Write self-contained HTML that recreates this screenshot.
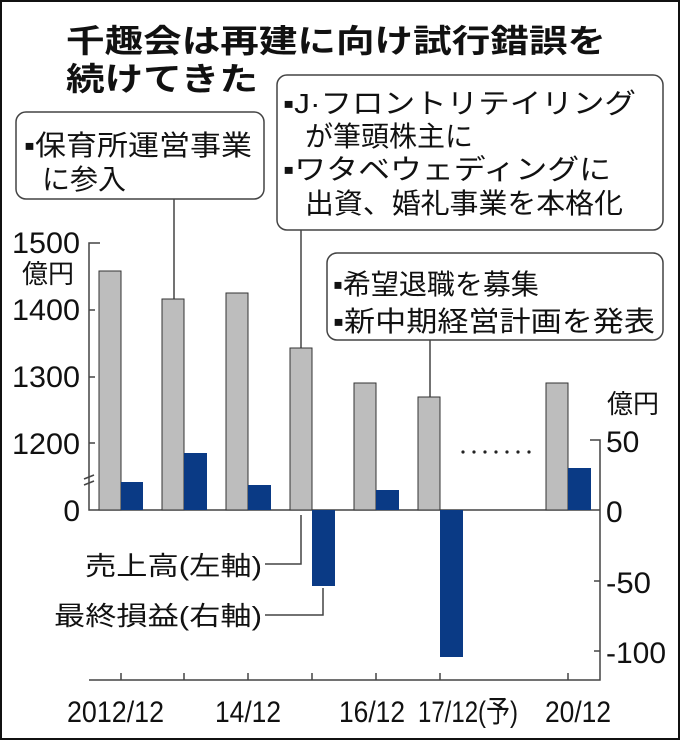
<!DOCTYPE html>
<html><head><meta charset="utf-8"><style>
html,body{margin:0;padding:0;background:#fff}
svg{display:block}
text{font-family:"Liberation Sans","Noto Sans CJK JP",sans-serif;fill:#111}
</style></head><body>
<svg width="680" height="740" viewBox="0 0 680 740">
<rect x="1" y="1" width="678" height="738" fill="#fff" stroke="#111" stroke-width="2"/>
<g font-weight="bold" font-size="32">
<text x="66" y="52" textLength="540" lengthAdjust="spacingAndGlyphs">千趣会は再建に向け試行錯誤を</text>
<text x="66" y="90" textLength="192" lengthAdjust="spacingAndGlyphs">続けてきた</text>
</g>
<g fill="#fff" stroke="#444" stroke-width="1.5">
<rect x="16" y="112" width="248" height="87" rx="10"/>
<rect x="277" y="75" width="386" height="155" rx="10"/>
<rect x="327" y="253" width="336" height="87" rx="10"/>
</g>
<g font-size="28">
<text x="24" y="155" textLength="228" lengthAdjust="spacingAndGlyphs">▪保育所運営事業</text>
<text x="42" y="189">に参入</text>
<text x="283" y="113" textLength="353" lengthAdjust="spacingAndGlyphs">▪J·フロントリテイリング</text>
<text x="305" y="146">が筆頭株主に</text>
<text x="283" y="179" textLength="328" lengthAdjust="spacingAndGlyphs">▪ワタベウェディングに</text>
<text x="305" y="213" textLength="318" lengthAdjust="spacingAndGlyphs">出資、婚礼事業を本格化</text>
<text x="333" y="294">▪希望退職を募集</text>
<text x="333" y="331" textLength="322" lengthAdjust="spacingAndGlyphs">▪新中期経営計画を発表</text>
</g>
<g stroke="#444" stroke-width="1.5" fill="none">
<line x1="174" y1="199" x2="174" y2="299"/>
<line x1="301" y1="230" x2="301" y2="348"/>
<line x1="430" y1="340" x2="430" y2="397"/>
<polyline points="265,564 301,564 301,515"/>
<polyline points="265,615 323,615 323,588"/>
</g>
<g stroke="#444" stroke-width="1.5" fill="none">
<polyline points="100,243 89,243 89,510 600,510"/>
<line x1="89" y1="310" x2="95" y2="310"/>
<line x1="89" y1="377" x2="95" y2="377"/>
<line x1="89" y1="443" x2="95" y2="443"/>
<polyline points="590,440 600,440 600,680 89,680"/>
<line x1="594" y1="581" x2="600" y2="581"/>
<line x1="594" y1="651" x2="600" y2="651"/>
<line x1="121" y1="673" x2="121" y2="680"/>
<line x1="184" y1="673" x2="184" y2="680"/>
<line x1="248" y1="673" x2="248" y2="680"/>
<line x1="312" y1="673" x2="312" y2="680"/>
<line x1="376" y1="673" x2="376" y2="680"/>
<line x1="440" y1="673" x2="440" y2="680"/>
<line x1="568" y1="673" x2="568" y2="680"/>
</g>
<g stroke="#444" stroke-width="1.5"><line x1="84" y1="479" x2="94" y2="475"/><line x1="84" y1="485" x2="94" y2="481"/></g>
<g fill="#bdbdbd" stroke="#333" stroke-width="1">
<rect x="99" y="271" width="22" height="239"/>
<rect x="162" y="299" width="22" height="211"/>
<rect x="226" y="293" width="22" height="217"/>
<rect x="290" y="348" width="22" height="162"/>
<rect x="354" y="383" width="22" height="127"/>
<rect x="418" y="397" width="22" height="113"/>
<rect x="546" y="383" width="22" height="127"/>
</g>
<g fill="#0a3a85">
<rect x="121" y="482" width="22" height="28"/>
<rect x="184" y="453" width="23" height="57"/>
<rect x="248" y="485" width="23" height="25"/>
<rect x="312" y="510" width="23" height="76"/>
<rect x="376" y="490" width="23" height="20"/>
<rect x="440" y="510" width="23" height="147"/>
<rect x="568" y="468" width="23" height="42"/>
</g>
<g fill="#222">
<circle cx="463" cy="452" r="1.6"/><circle cx="474" cy="452" r="1.6"/><circle cx="485" cy="452" r="1.6"/><circle cx="496" cy="452" r="1.6"/><circle cx="507" cy="452" r="1.6"/><circle cx="518" cy="452" r="1.6"/><circle cx="529" cy="452" r="1.6"/>
</g>
<g font-size="30">
<text x="80" y="253" text-anchor="end" textLength="68" lengthAdjust="spacingAndGlyphs">1500</text>
<text x="80" y="320" text-anchor="end" textLength="68" lengthAdjust="spacingAndGlyphs">1400</text>
<text x="80" y="387" text-anchor="end" textLength="68" lengthAdjust="spacingAndGlyphs">1300</text>
<text x="80" y="454" text-anchor="end" textLength="68" lengthAdjust="spacingAndGlyphs">1200</text>
<text x="80" y="521" text-anchor="end">0</text>
<text x="606" y="452">50</text>
<text x="606" y="522">0</text>
<text x="606" y="593" textLength="45" lengthAdjust="spacingAndGlyphs">-50</text>
<text x="606" y="663" textLength="60" lengthAdjust="spacingAndGlyphs">-100</text>
<text x="67" y="722" textLength="97" lengthAdjust="spacingAndGlyphs">2012/12</text>
<text x="215" y="722" textLength="66" lengthAdjust="spacingAndGlyphs">14/12</text>
<text x="339" y="722" textLength="66" lengthAdjust="spacingAndGlyphs">16/12</text>
<text x="418" y="722" textLength="100" lengthAdjust="spacingAndGlyphs">17/12(予)</text>
<text x="545" y="722" textLength="66" lengthAdjust="spacingAndGlyphs">20/12</text>
</g>
<g font-size="26">
<text x="22" y="283">億円</text>
<text x="607" y="413">億円</text>
<text x="85" y="575" textLength="177" lengthAdjust="spacingAndGlyphs">売上高(左軸)</text>
<text x="54" y="625" textLength="208" lengthAdjust="spacingAndGlyphs">最終損益(右軸)</text>
</g>
</svg>
</body></html>
